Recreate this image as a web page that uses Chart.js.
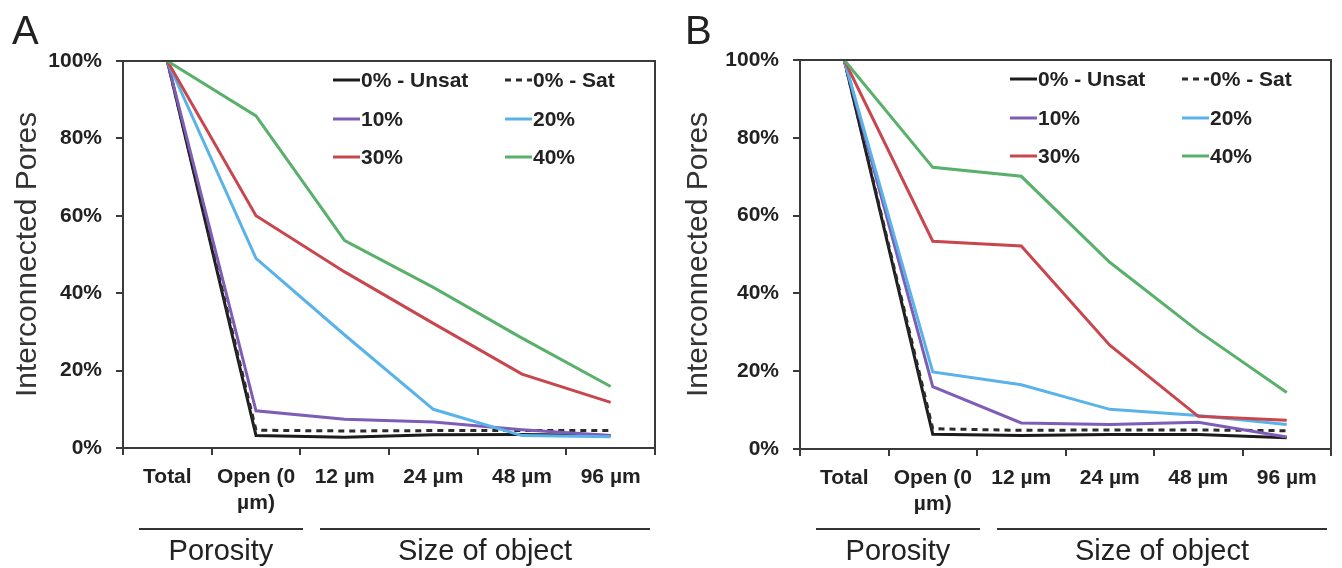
<!DOCTYPE html>
<html>
<head>
<meta charset="utf-8">
<script src="https://cdn.jsdelivr.net/npm/chart.js@4.4.1/dist/chart.umd.min.js"></script>
<style>
  html, body { margin: 0; padding: 0; background: #fff; }
  body { width: 1342px; height: 568px; overflow: hidden; position: relative;
         font-family: "Liberation Sans", Arial, sans-serif; color: #222; }
  .panel { position: absolute; top: 0; width: 671px; height: 568px; }
  .panel canvas { position: absolute; left: 0; top: 0; }
  .letter { position: absolute; top: 10px; font-size: 40px; line-height: 40px; color: #222; }
  .leg { position: absolute; display: flex; align-items: center; font-weight: bold;
         font-size: 21px; line-height: 24px; white-space: nowrap; color: #222; }
  .leg svg { display: block; margin-right: 1px; }
  .grp-line { position: absolute; height: 2px; background: #333; }
  .grp-text { position: absolute; font-size: 29px; line-height: 29px; text-align: center;
              white-space: nowrap; color: #222; }
</style>
</head>
<body>
<div class="panel" id="panelA" style="left:0px">
  <canvas id="chartA" width="671" height="568"></canvas>
  <div class="letter" style="left:12px">A</div>
</div>
<div class="panel" id="panelB" style="left:671px">
  <canvas id="chartB" width="671" height="568"></canvas>
  <div class="letter" style="left:14px">B</div>
</div>
<script>
// 類別與刻度
const categories = ['Total', ['Open (0', 'µm)'], '12 µm', '24 µm', '48 µm', '96 µm'];
const yTickValues = [0, 20, 40, 60, 80, 100];
const seriesNames = ['0% - Unsat', '0% - Sat', '10%', '20%', '30%', '40%'];
const groupLabels = ['Porosity', 'Size of object'];

// 圖 A 數據 (%)
const unsatA = [100, 3.2, 2.8, 3.4, 3.5, 3.2];
const satA   = [100, 4.6, 4.4, 4.5, 4.5, 4.5];
const p10A   = [100, 9.6, 7.4, 6.7, 4.7, 3.2];
const p20A   = [100, 49, 29.2, 10, 3.2, 2.9];
const p30A   = [100, 60, 45.5, 32.2, 19.1, 11.8];
const p40A   = [100, 85.8, 53.6, 41.5, 28.4, 15.9];

// 圖 B 數據 (%)
const unsatB = [100, 3.8, 3.5, 3.7, 3.7, 2.9];
const satB   = [100, 5.2, 4.8, 4.9, 4.9, 4.7];
const p10B   = [100, 16, 6.7, 6.3, 6.9, 3.1];
const p20B   = [100, 19.8, 16.5, 10.2, 8.6, 6.3];
const p30B   = [100, 53.4, 52.2, 26.7, 8.4, 7.4];
const p40B   = [100, 72.4, 70.1, 48, 30.3, 14.5];

// 樣式
const seriesColors = ['#1c1c1c', '#2b2b2b', '#7d5db5', '#5ab3e8', '#c8464d', '#58b06b'];
const seriesDash = [[], [6, 5], [], [], [], []];
const axisColor = '#3a3a3a';
const fontFamily = '"Liberation Sans", Arial, sans-serif';

// 外框 (上、右)
const framePlugin = {
  id: 'frame',
  afterDraw(chart) {
    const a = chart.chartArea;
    const ctx = chart.ctx;
    ctx.save();
    ctx.strokeStyle = axisColor;
    ctx.lineWidth = 2;
    ctx.strokeRect(a.left, a.top, a.right - a.left, a.bottom - a.top);
    ctx.restore();
  }
};

function makePanel(canvasId, panelId, values, L) {
  const W = 671, H = 568;
  const datasets = values.map((data, i) => ({
    label: seriesNames[i],
    data: data,
    borderColor: seriesColors[i],
    backgroundColor: seriesColors[i],
    borderDash: seriesDash[i],
    borderWidth: 3,
    pointRadius: 0,
    tension: 0,
    fill: false,
    order: values.length - i
  }));

  const chart = new Chart(document.getElementById(canvasId), {
    type: 'line',
    data: { labels: categories, datasets: datasets },
    options: {
      responsive: false,
      animation: false,
      layout: { padding: { top: L.top, right: W - L.right, bottom: 0, left: 0 } },
      plugins: { legend: { display: false }, tooltip: { enabled: false } },
      scales: {
        x: {
          offset: true,
          grid: { offset: true, drawOnChartArea: false, tickLength: 7, color: axisColor, lineWidth: 2 },
          border: { color: axisColor, width: 2 },
          ticks: { color: '#222', padding: 10, maxRotation: 0, autoSkip: false,
                   font: { family: fontFamily, size: 21, weight: 'bold', lineHeight: 1.2 } },
          afterFit: s => { s.height = H - L.bottom; }
        },
        y: {
          min: 0,
          max: 100,
          afterBuildTicks: s => { s.ticks = yTickValues.map(v => ({ value: v })); },
          grid: { drawOnChartArea: false, tickLength: 7, color: axisColor, lineWidth: 2 },
          border: { color: axisColor, width: 2 },
          ticks: { color: '#222', padding: 14, callback: v => v + '%',
                   font: { family: fontFamily, size: 21, weight: 'bold' } },
          title: { display: true, text: 'Interconnected Pores', color: '#333',
                   font: { family: fontFamily, size: 30 }, padding: { top: 10, bottom: 0 } },
          afterFit: s => { s.width = L.left; }
        }
      }
    },
    plugins: [framePlugin]
  });

  const panel = document.getElementById(panelId);

  // 圖例 (兩欄三列)
  const colX = [210, 382];
  const rowY = [19, 58, 96];
  datasets.forEach((ds, i) => {
    const item = document.createElement('div');
    item.className = 'leg';
    item.style.left = (L.left + colX[i % 2]) + 'px';
    item.style.top = (L.top + rowY[Math.floor(i / 2)] - 12) + 'px';
    const dash = ds.borderDash.length ? ' stroke-dasharray="' + ds.borderDash.join(' ') + '"' : '';
    item.innerHTML = '<svg width="27" height="6"><line x1="0" y1="3" x2="27" y2="3" stroke="' +
      ds.borderColor + '" stroke-width="3"' + dash + '/></svg><span>' + ds.label + '</span>';
    panel.appendChild(item);
  });

  // 分組標籤
  const groupLines = [[16, 180], [197, 527]];
  groupLabels.forEach((label, g) => {
    const x0 = chart.chartArea.left + groupLines[g][0];
    const x1 = chart.chartArea.left + groupLines[g][1];
    const line = document.createElement('div');
    line.className = 'grp-line';
    line.style.left = x0 + 'px';
    line.style.width = (x1 - x0) + 'px';
    line.style.top = '528px';
    panel.appendChild(line);
    const txt = document.createElement('div');
    txt.className = 'grp-text';
    txt.textContent = label;
    txt.style.left = x0 + 'px';
    txt.style.width = (x1 - x0) + 'px';
    txt.style.top = '536px';
    panel.appendChild(txt);
  });
}

makePanel('chartA', 'panelA', [unsatA, satA, p10A, p20A, p30A, p40A],
  { left: 123, right: 655, top: 61, bottom: 448 });
makePanel('chartB', 'panelB', [unsatB, satB, p10B, p20B, p30B, p40B],
  { left: 129, right: 660, top: 60, bottom: 449 });
</script>
</body>
</html>
